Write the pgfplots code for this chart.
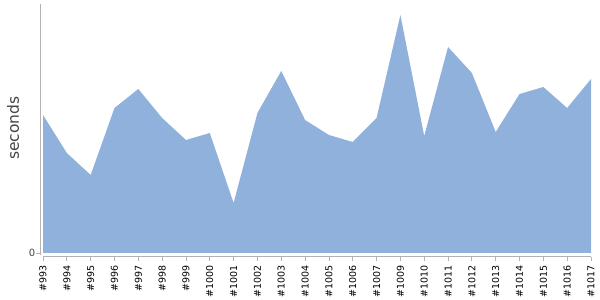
\documentclass[border=0pt]{standalone}
\usepackage{fontspec}
\setmainfont{DejaVu Sans}
\usepackage{pgfplots}
\pgfplotsset{compat=1.18}
\definecolor{areafill}{RGB}{143,177,219}
\definecolor{axgray}{RGB}{178,178,178}
\definecolor{labgray}{RGB}{68,68,68}
\begin{document}
\begin{tikzpicture}[x=1pt,y=1pt]
\useasboundingbox (0,0) rectangle (600,300);
\begin{axis}[
  at={(40pt,43pt)}, anchor=south west,
  scale only axis,
  width=551pt, height=253pt,
  xmin=-0.126, xmax=23,
  ymin=-4, ymax=249,
  axis lines=none,
  clip=false,
  xtick=data,
  xticklabels={\#993,\#994,\#995,\#996,\#997,\#998,\#999,\#1000,\#1001,\#1002,\#1003,\#1004,\#1005,\#1006,\#1007,\#1009,\#1010,\#1011,\#1012,\#1013,\#1014,\#1015,\#1016,\#1017},
  ytick={0},
  /pgf/number format/assume math mode=true,
]
\addplot[draw=none, fill=areafill] coordinates {
(0,138) (1,100) (2,78) (3,145) (4,164) (5,135) (6,113) (7,120) (8,50) (9,140) (10,182) (11,133) (12,118) (13,111) (14,135) (15,238) (16,117) (17,206) (18,180) (19,121) (20,159) (21,166) (22,145) (23,174)
} \closedcycle;
\end{axis}
% axis lines and ticks drawn in picture coordinates (1pt = 1px)
\draw[axgray, line width=1pt] (40,296) -- (40,45);
\draw[axgray, line width=1pt] (43,43) -- (591,43);
\draw[axgray, line width=0.8pt] (36,47) -- (40,47);
\foreach \i [count=\k from 0] in {993,994,995,996,997,998,999,1000,1001,1002,1003,1004,1005,1006,1007,1009,1010,1011,1012,1013,1014,1015,1016,1017} {
  \pgfmathsetmacro{\xx}{43+\k*23.826}
  \draw[axgray, line width=0.8pt] (\xx,43) -- (\xx,39);
  \node[rotate=90, anchor=east, inner sep=0pt, font=\fontsize{9.5}{10}\selectfont] at (\xx,35) {\#\i};
}
\node[anchor=east, inner sep=0pt, text=labgray, font=\fontsize{10}{11}\selectfont] at (35.5,47.5) {0};
\node[rotate=90, anchor=center, inner sep=0pt, text=labgray, font=\fontsize{15.5}{17}\selectfont] at (13,172) {seconds};
\end{tikzpicture}
\end{document}
